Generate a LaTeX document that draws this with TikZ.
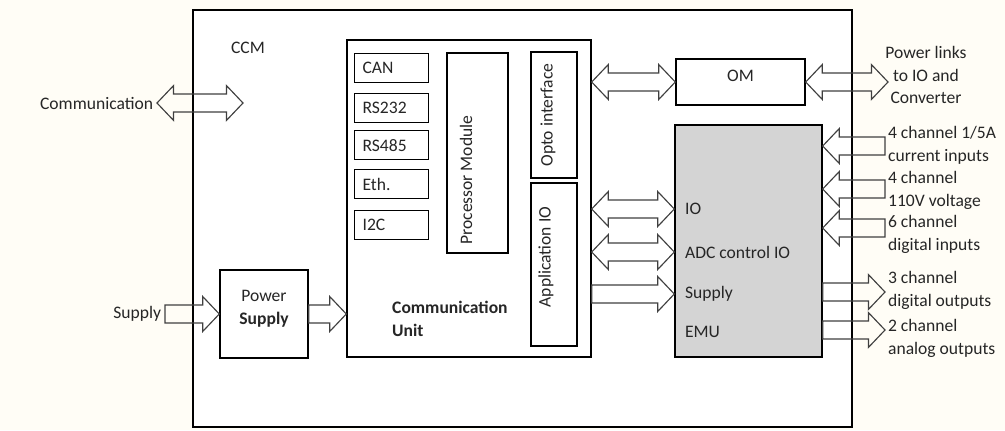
\documentclass[tikz,border=0pt]{standalone}
\usepackage{fontspec}
\setmainfont{Carlito}
\usetikzlibrary{calc, fit}
\definecolor{bgcream}{RGB}{255,253,246}

\newcommand\arrshaft{5.1pt}
\newcommand\arrhead{9.9pt}
\newcommand\arrlen{9.4pt}
% block arrow: start, tip
\newcommand\fatarrow[2]{%
  \draw[fat] ($(#1)+(0pt,\arrshaft)$) -- ($(#2)!\arrlen!(#1)+(0pt,\arrshaft)$)
    -- ($(#2)!\arrlen!(#1)+(0pt,\arrhead)$) -- (#2)
    -- ($(#2)!\arrlen!(#1)-(0pt,\arrhead)$) -- ($(#2)!\arrlen!(#1)-(0pt,\arrshaft)$)
    -- ($(#1)-(0pt,\arrshaft)$) -- cycle;}
% block arrow, both ends
\newcommand\fatboth[2]{%
  \draw[fat] (#1) -- ($(#1)!\arrlen!(#2)+(0pt,\arrhead)$) -- ($(#1)!\arrlen!(#2)+(0pt,\arrshaft)$)
    -- ($(#2)!\arrlen!(#1)+(0pt,\arrshaft)$) -- ($(#2)!\arrlen!(#1)+(0pt,\arrhead)$) -- (#2)
    -- ($(#2)!\arrlen!(#1)-(0pt,\arrhead)$) -- ($(#2)!\arrlen!(#1)-(0pt,\arrshaft)$)
    -- ($(#1)!\arrlen!(#2)-(0pt,\arrshaft)$) -- ($(#1)!\arrlen!(#2)-(0pt,\arrhead)$) -- cycle;}

\begin{document}
\begin{tikzpicture}[x=0.02cm,y=-0.02cm,
  box/.style={draw,line width=0.8pt,inner sep=0pt},
  portbox/.style={draw,line width=0.7pt,anchor=north west,minimum height=0.58cm,
    text width=1.16cm,inner xsep=0.16cm,inner ysep=0pt},
  fat/.style={draw=black!75,line width=0.65pt,line join=miter},
  lab/.style={align=left,anchor=west,inner sep=1pt},
  every node/.style={text=black!85,font=\fontsize{10}{13}\selectfont}]
  \fill[bgcream] (0,0) rectangle (1005,430);
  \useasboundingbox (0,0) rectangle (1005,430);
  % frames
  \node[box,fill=white,fit={(193,10) (852,427)}] (ccm) {};
  \node (ccmtxt) at (248,48) {CCM};
  \node[box,fit={(347,40) (591,357)}] (cu) {};
  \node[anchor=north west,align=left,font=\fontsize{10}{13}\selectfont\bfseries] (cutxt) at (386,295) {Communication\\Unit};
  \foreach \nm/\txt/\yy in {can/CAN/53, rs232/RS232/93, rs485/RS485/130, eth/Eth./169, iic/I2C/210}
    \node[portbox] (\nm) at (354,\yy) {\txt};
  \node[box,fit={(447,53) (508,253)}] (pm) {};
  \node[rotate=90] (pmtxt) at (466,180) {Processor Module};
  \node[box,fit={(531,52) (577,178)}] (opto) {};
  \node[rotate=90] (optotxt) at (548,115) {Opto interface};
  \node[box,fit={(531,183) (577,346)}] (appio) {};
  \node[rotate=90] (appiotxt) at (546,257) {Application IO};
  \node[box,fit={(220,270) (308,358)},align=center] (ps) {Power\\\textbf{Supply}};
  \node[box,fit={(676,59) (805,105)}] (om) {OM};
  \node[box,fill=black!17,fit={(675,125) (822,357)}] (emu) {};
  \foreach \nm/\txt/\yy in {iotxt/IO/209, adctxt/ADC control IO/252, suptxt/Supply/294, emutxt/EMU/332}
    \node[lab] (\nm) at (683,\yy) {\txt};
  % outside labels
  \node[anchor=east,inner sep=2pt] (commtxt) at (157,103) {Communication};
  \node[anchor=east,inner sep=2pt] (supplytxt) at (165,314) {Supply};
  \node[align=center] (pwrtxt) at (926,75) {Power links\\to IO and\\Converter};
  \node[lab] (curtxt) at (886,145) {4 channel 1/5A\\current inputs};
  \node[lab] (volttxt) at (886,190) {4 channel\\110V voltage};
  \node[lab] (dintxt) at (886,234) {6 channel\\digital inputs};
  \node[lab] (douttxt) at (886,290) {3 channel\\digital outputs};
  \node[lab] (aouttxt) at (886,338) {2 channel\\analog outputs};
  % arrows
  \coordinate (commin) at (243,103);
  \fatboth{commtxt.east}{commin}
  \fatarrow{supplytxt.east}{ps.west}
  \coordinate (cuin) at (ps.east -| cu.west);
  \fatarrow{ps.east}{cuin}
  \coordinate (cuom) at (om.west -| cu.east);
  \fatboth{cuom}{om.west}
  \coordinate (omext) at (888,82);
  \fatboth{om.east}{omext}
  \foreach \nm in {iotxt, adctxt, suptxt}{
    \coordinate (\nm-a) at (cu.east |- \nm.west);
    \coordinate (\nm-b) at (emu.west |- \nm.west);}
  \fatboth{iotxt-a}{iotxt-b}
  \fatboth{adctxt-a}{adctxt-b}
  \fatarrow{suptxt-a}{suptxt-b}
  \foreach \nm/\yy in {cur/146, volt/189, din/228}{
    \coordinate (\nm) at (885,\yy);
    \coordinate (\nm-tip) at (\nm -| emu.east);
    \fatarrow{\nm}{\nm-tip}}
  \foreach \nm/\yy in {dout/292, aout/330}{
    \coordinate (\nm) at (885,\yy);
    \coordinate (\nm-src) at (\nm -| emu.east);
    \fatarrow{\nm-src}{\nm}}
\end{tikzpicture}
\end{document}
